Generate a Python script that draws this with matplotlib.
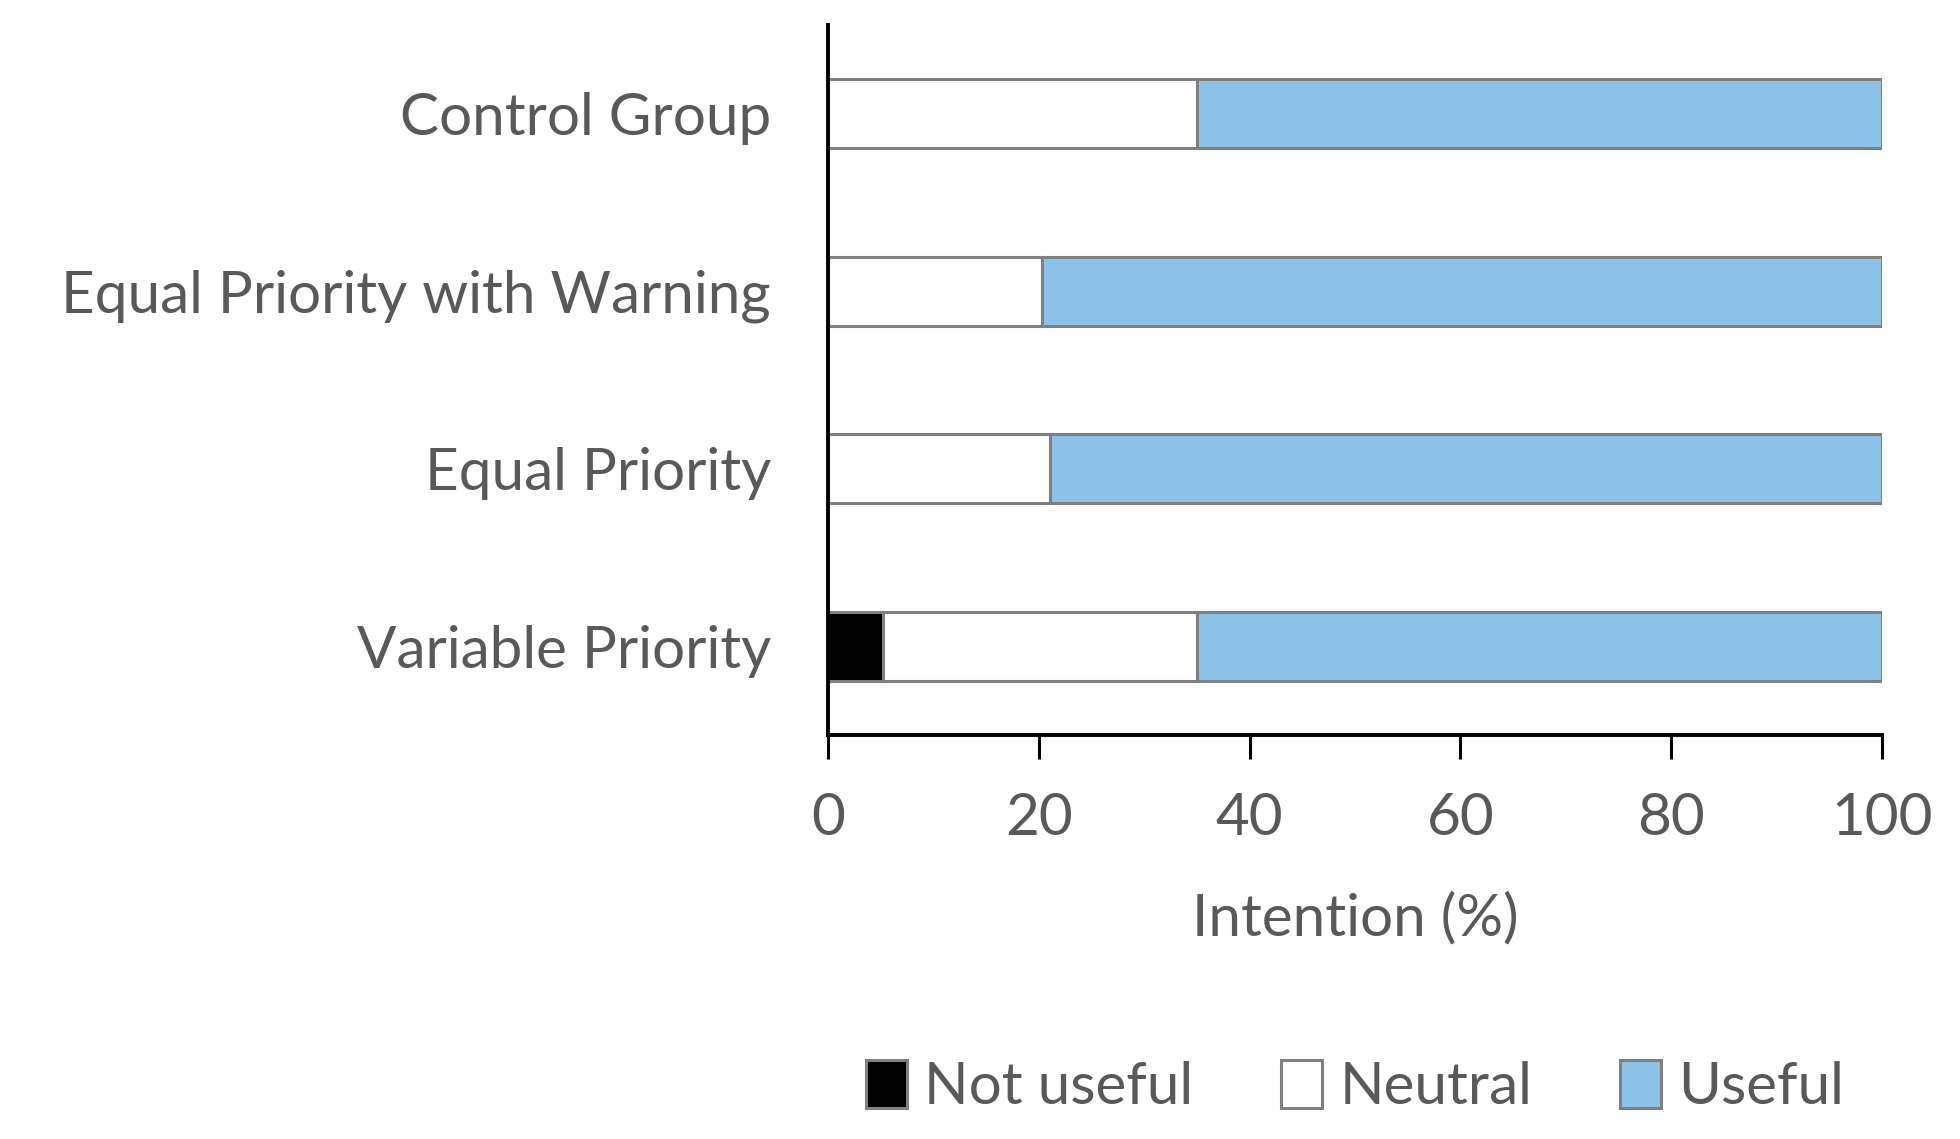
import numpy as np
import matplotlib.pyplot as plt

groups = ["Control Group", "Equal Priority with Warning", "Equal Priority", "Variable Priority"]
not_useful = [0, 0, 0, 5.2]
neutral = [35, 20.3, 21.1, 29.8]
useful = [65, 79.7, 78.9, 65]

plt.rcParams['font.family'] = ['Lato', 'DejaVu Sans']
txt = '#595959'
fs = 42

fig = plt.figure(figsize=(19.6, 11.39), dpi=100)
ax = fig.add_axes([828/1960, 1-735/1139, (1882-828)/1960, (735-25)/1139])

y = np.arange(len(groups))
h = 0.39
left = np.zeros(len(groups))
edge = '#808080'
b1 = ax.barh(y, not_useful, h, left=left, color='black', edgecolor=edge, linewidth=2.2, label='Not useful')
left = left + np.array(not_useful)
b2 = ax.barh(y, neutral, h, left=left, color='white', edgecolor=edge, linewidth=2.2, label='Neutral')
left = left + np.array(neutral)
b3 = ax.barh(y, useful, h, left=left, color='#8DC3E8', edgecolor=edge, linewidth=2.2, label='Useful')

ax.set_xlim(0, 100)
ax.set_ylim(3.5, -0.5)
ax.set_yticks(y)
ax.set_yticklabels(groups)
ax.set_xticks([0, 20, 40, 60, 80, 100])
ax.tick_params(axis='y', length=0, pad=41, labelsize=fs, labelcolor=txt)
ax.tick_params(axis='x', length=17, width=2.2, direction='out', pad=24, labelsize=fs, labelcolor=txt)
for s in ['top', 'right']:
    ax.spines[s].set_visible(False)
for s in ['left', 'bottom']:
    ax.spines[s].set_linewidth(2.8)
    ax.spines[s].set_color('black')
ax.set_xlabel("Intention (%)", fontsize=fs, color=txt, labelpad=34)

fig.legend(handles=[b1, b2, b3], loc='center', bbox_to_anchor=(1355/1960, 1-1087/1139),
           ncol=3, frameon=False, fontsize=fs, labelcolor=txt,
           handlelength=0.7, handleheight=0.9, handletextpad=0.3, columnspacing=1.5)

fig.savefig('out.png', dpi=100)
